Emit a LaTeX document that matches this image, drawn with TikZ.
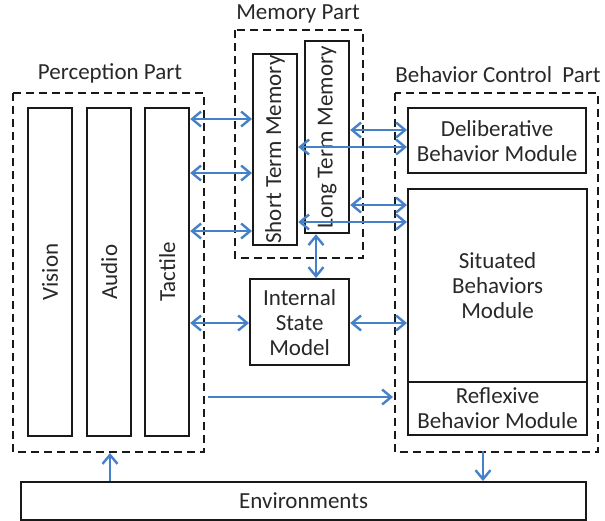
\documentclass[tikz,border=0pt]{standalone}
\usepackage{fontspec}
\setmainfont{Carlito}
\usetikzlibrary{arrows.meta}
\definecolor{linkblue}{RGB}{70,128,200}
\definecolor{ink}{RGB}{40,40,40}
\tikzset{
  x=1pt, y=-1pt,
  every node/.style={font=\fontsize{23}{25}\selectfont, text=ink, align=center, inner sep=0pt},
  module/.style={draw=black!90, line width=2.2pt},
  group/.style={draw=black!90, line width=2.2pt, dash pattern=on 8pt off 5pt},
  link/.style={draw=linkblue, line width=2.4pt, {Straight Barb[length=9pt,width=15pt]}-{Straight Barb[length=9pt,width=15pt]}},
  feed/.style={draw=linkblue, line width=2.4pt, -{Straight Barb[length=9pt,width=15pt]}},
}
\begin{document}
\begin{tikzpicture}
\useasboundingbox (0,0) rectangle (605,520);

% group frames
\draw[group] (13,93) rectangle (204,452);
\draw[group] (235,30) rectangle (363,258);
\draw[group] (395,93) rectangle (598,452);
\node (plabel) at (110,73) {Perception Part};
\node (mlabel) at (298,14) {Memory Part};
\node (blabel) at (498,75) {Behavior Control\ \ Part};

% perception channels
\node[module, minimum width=44pt, minimum height=328pt, anchor=north west,
  label={[rotate=90]center:Vision}] (vision) at (27,107) {};
\node[module, minimum width=44pt, minimum height=328pt, anchor=north west,
  label={[rotate=90]center:Audio}] (audio) at (86,107) {};
\node[module, minimum width=44pt, minimum height=328pt, anchor=north west,
  label={[rotate=90]center:Tactile}] (tactile) at (144,107) {};

% memories
\node[module, minimum width=44pt, minimum height=191pt, anchor=north west,
  label={[rotate=90]center:Short Term Memory}] (stm) at (252,53) {};
\node[module, minimum width=44pt, minimum height=192pt, anchor=north west,
  label={[rotate=90]center:Long Term Memory}] (ltm) at (304,40) {};

% internal state
\node[module, minimum width=99pt, minimum height=86pt, anchor=north west] (ism) at (249,278) {Internal\\State\\Model};

% behaviour modules
\node[module, minimum width=178pt, minimum height=65pt, anchor=north west] (delib) at (407,107) {Deliberative\\Behavior Module};
\node[module, minimum width=179pt, minimum height=193pt, anchor=north west] (situ) at (407,188) {Situated\\Behaviors\\Module};
\node[module, minimum width=179pt, minimum height=53pt, anchor=north west] (reflex) at (407,381) {Reflexive\\Behavior Module};

% environment
\node[module, minimum width=565pt, minimum height=38pt, anchor=north west] (env) at (20,481) {Environments};

% frame anchors
\coordinate (pframe) at (204,397);
\coordinate (bframe) at (395,397);
\coordinate (pbottom) at (110,452);
\coordinate (bbottom) at (483,452);

% links
\draw[link] (tactile.east |- 0,119) -- (stm.west |- 0,119);
\draw[link] (tactile.east |- 0,173) -- (stm.west |- 0,173);
\draw[link] (tactile.east |- 0,231) -- (stm.west |- 0,231);
\draw[link] (tactile.east |- 0,323) -- (ism.west |- 0,323);
\draw[link] (ism.east |- 0,323) -- (situ.west |- 0,323);
\draw[link] (ltm.east |- 0,130) -- (delib.west |- 0,130);
\draw[link] (stm.east |- 0,147) -- (delib.west |- 0,147);
\draw[link] (ltm.east |- 0,205) -- (situ.west |- 0,205);
\draw[link] (stm.east |- 0,222) -- (situ.west |- 0,222);
\draw[link] (ltm.south -| 316,0) -- (ism.north -| 316,0);
\draw[feed] ([xshift=4pt]pframe) -- ([xshift=-2pt]bframe);
\draw[feed] (env.north -| pbottom) -- ([yshift=-1pt]pbottom);
\draw[feed] ([yshift=1pt]bbottom) -- (env.north -| bbottom);
\end{tikzpicture}
\end{document}
